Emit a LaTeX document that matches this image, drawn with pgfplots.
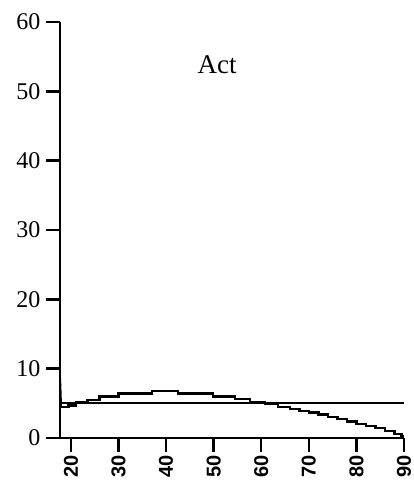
\documentclass[border=0pt]{standalone}
\usepackage{fontspec}
\setmainfont{Liberation Serif}
\newfontfamily\xfont{Liberation Sans}
\usepackage{pgfplots}
\pgfplotsset{compat=1.18}
\begin{document}
\begin{tikzpicture}
\path[use as bounding box] (-60pt,-55pt) rectangle (354pt,438pt);
\begin{axis}[
  at={(0,0)}, anchor=south west,
  scale only axis, width=344pt, height=416pt,
  xmin=17.7, xmax=90, ymin=0, ymax=60,
  axis x line=bottom, axis y line=left,
  axis line style={-, line width=2.4pt},
  tick style={line width=2.4pt, black},
  tick align=outside,
  major tick length=14pt,
  xtick={20,30,...,90}, ytick={0,10,...,60},
  /pgf/number format/assume math mode=true,
  yticklabel style={font=\fontsize{24}{24}\selectfont, xshift=-2pt},
  xticklabel style={font=\xfont\bfseries\fontsize{20}{20}\selectfont, rotate=90, anchor=east},
  clip=false,
]
\addplot[black, line width=2pt] coordinates {(17.7,5) (90,5)};
\addplot[black, line width=1.2pt] coordinates {(17.8,8.6) (18.0,4.6)};
\addplot[black, line width=2.4pt, const plot] coordinates {
(18.0,4.5) (19.5,4.7) (21,5.1) (23.5,5.5) (26,6.0) (30,6.4) (37,6.8)
(42.5,6.4) (49.8,6.0) (54.5,5.6) (57.6,5.2) (60.8,4.9) (63.5,4.5)
(66,4.2) (68,3.9) (70,3.7) (72,3.4) (74,3.0) (76,2.7) (78,2.4)
(80,2.0) (82,1.7) (84,1.4) (86,1.0) (88,0.6) (89.5,0.2) (90,0.2)};
\node[font=\fontsize{27}{27}\selectfont] at (axis cs:50.7,53.8) {Act};
\end{axis}
\end{tikzpicture}
\end{document}
